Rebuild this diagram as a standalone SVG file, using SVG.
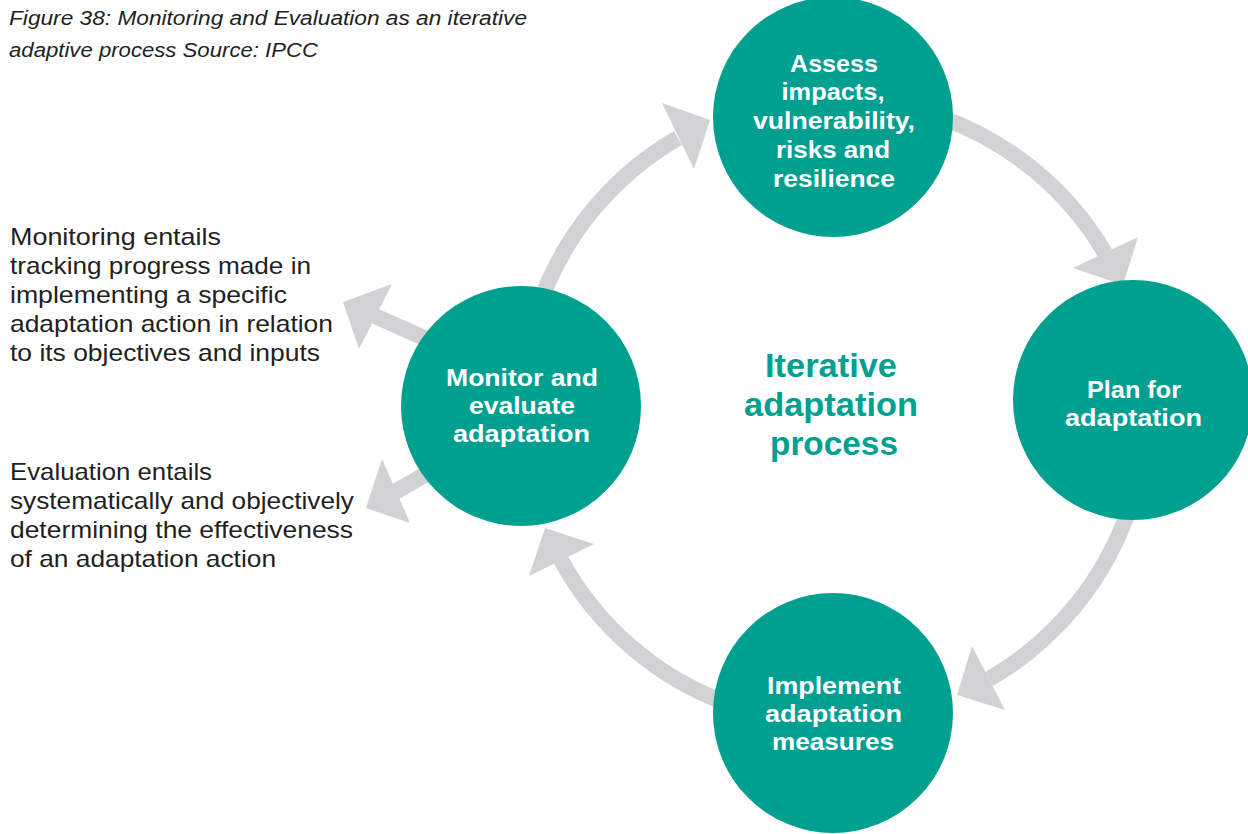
<svg xmlns="http://www.w3.org/2000/svg" width="1248" height="834" viewBox="0 0 1248 834">
<style>
.shaft{fill:none;stroke:#d1d2d4;stroke-width:16}
.head{fill:#d1d2d4}
.node{fill:#00a091}
.nt{font-family:"Liberation Sans",Arial,sans-serif;font-weight:bold;font-size:24px;fill:#ffffff;text-anchor:middle}
.ct{font-family:"Liberation Sans",Arial,sans-serif;font-weight:bold;font-size:33px;fill:#00a091;text-anchor:middle}
.lt{font-family:"Liberation Sans",Arial,sans-serif;font-size:24px;fill:#231f20}
.cap{font-family:"Liberation Sans",Arial,sans-serif;font-style:italic;font-size:20px;fill:#231f20}
</style>
<rect width="1248" height="834" fill="#ffffff"/>
<g id="caption">
<text class="cap" x="9" y="25" textLength="518" lengthAdjust="spacingAndGlyphs">Figure 38: Monitoring and Evaluation as an iterative</text>
<text class="cap" x="9" y="57" textLength="309" lengthAdjust="spacingAndGlyphs">adaptive process Source: IPCC</text>
</g>
<g id="connectors">
<path class="shaft" d="M540,303 A312,312 0 0 1 678,138"/>
<polygon class="head" points="710,120 662,103 694,169"/>
<path class="shaft" d="M940,117 A312,312 0 0 1 1105,253"/>
<polygon class="head" points="1123,285 1073,268 1138,237"/>
<path class="shaft" d="M1130,506 A312,312 0 0 1 989,679"/>
<polygon class="head" points="957,695 972,646 1005,710"/>
<path class="shaft" d="M726,703 A312,312 0 0 1 561,560"/>
<polygon class="head" points="545,528 529,576 594,544"/>
<path class="shaft" d="M431,341 L375,316"/>
<polygon class="head" points="343,302 392,284 359,349"/>
<path class="shaft" d="M440,466 L395,492"/>
<polygon class="head" points="366,508 382,459 410,523"/>
</g>
<g id="node-assess">
<circle class="node" cx="833" cy="117" r="120"/>
<text class="nt" x="834" y="72" textLength="88" lengthAdjust="spacingAndGlyphs">Assess</text>
<text class="nt" x="833" y="100" textLength="103" lengthAdjust="spacingAndGlyphs">impacts,</text>
<text class="nt" x="834" y="129" textLength="162" lengthAdjust="spacingAndGlyphs">vulnerability,</text>
<text class="nt" x="833" y="158" textLength="114" lengthAdjust="spacingAndGlyphs">risks and</text>
<text class="nt" x="834" y="187" textLength="122" lengthAdjust="spacingAndGlyphs">resilience</text>
</g>
<g id="node-plan">
<circle class="node" cx="1133" cy="400" r="120"/>
<text class="nt" x="1134" y="398" textLength="94" lengthAdjust="spacingAndGlyphs">Plan for</text>
<text class="nt" x="1133.5" y="426" textLength="137" lengthAdjust="spacingAndGlyphs">adaptation</text>
</g>
<g id="node-implement">
<circle class="node" cx="833" cy="713" r="120"/>
<text class="nt" x="834" y="694" textLength="134" lengthAdjust="spacingAndGlyphs">Implement</text>
<text class="nt" x="833.5" y="722" textLength="137" lengthAdjust="spacingAndGlyphs">adaptation</text>
<text class="nt" x="833" y="750" textLength="122" lengthAdjust="spacingAndGlyphs">measures</text>
</g>
<g id="node-monitor">
<circle class="node" cx="521" cy="406" r="120"/>
<text class="nt" x="522" y="386" textLength="152" lengthAdjust="spacingAndGlyphs">Monitor and</text>
<text class="nt" x="522" y="414" textLength="106" lengthAdjust="spacingAndGlyphs">evaluate</text>
<text class="nt" x="521.5" y="442" textLength="137" lengthAdjust="spacingAndGlyphs">adaptation</text>
</g>
<g id="center-label">
<text class="ct" x="831" y="377" textLength="132" lengthAdjust="spacingAndGlyphs">Iterative</text>
<text class="ct" x="831" y="416" textLength="174" lengthAdjust="spacingAndGlyphs">adaptation</text>
<text class="ct" x="834" y="455" textLength="128" lengthAdjust="spacingAndGlyphs">process</text>
</g>
<g id="monitoring-note">
<text class="lt" x="10" y="245" textLength="211" lengthAdjust="spacingAndGlyphs">Monitoring entails</text>
<text class="lt" x="10" y="274" textLength="301" lengthAdjust="spacingAndGlyphs">tracking progress made in</text>
<text class="lt" x="10" y="303" textLength="277" lengthAdjust="spacingAndGlyphs">implementing a specific</text>
<text class="lt" x="10" y="332" textLength="323" lengthAdjust="spacingAndGlyphs">adaptation action in relation</text>
<text class="lt" x="10" y="361" textLength="310" lengthAdjust="spacingAndGlyphs">to its objectives and inputs</text>
</g>
<g id="evaluation-note">
<text class="lt" x="10" y="480" textLength="202" lengthAdjust="spacingAndGlyphs">Evaluation entails</text>
<text class="lt" x="10" y="509" textLength="344" lengthAdjust="spacingAndGlyphs">systematically and objectively</text>
<text class="lt" x="10" y="538" textLength="343" lengthAdjust="spacingAndGlyphs">determining the effectiveness</text>
<text class="lt" x="10" y="567" textLength="266" lengthAdjust="spacingAndGlyphs">of an adaptation action</text>
</g>
</svg>
